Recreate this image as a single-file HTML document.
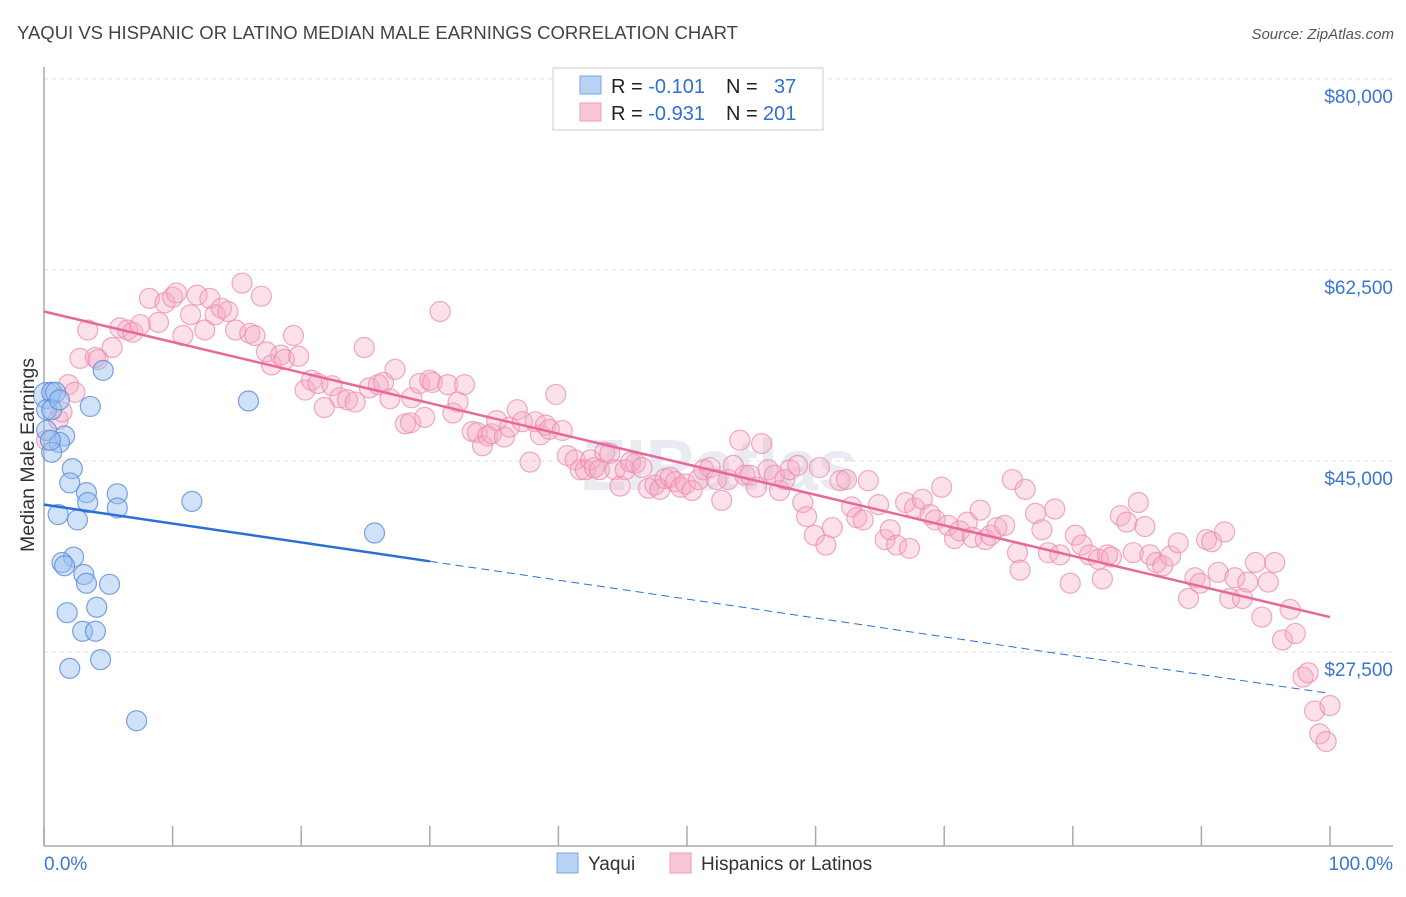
<!DOCTYPE html>
<html><head><meta charset="utf-8"><style>
body{margin:0;background:#fff;font-family:"Liberation Sans",sans-serif;}
svg text{font-family:"Liberation Sans",sans-serif;}
</style></head><body>
<svg id="chart" width="1406" height="892" xmlns="http://www.w3.org/2000/svg">
<text x="17" y="39" font-size="18.5" fill="#444">YAQUI VS HISPANIC OR LATINO MEDIAN MALE EARNINGS CORRELATION CHART</text>
<text x="1394" y="39" font-size="15" fill="#555" font-style="italic" text-anchor="end">Source: ZipAtlas.com</text>
<text x="720" y="490" font-size="72" fill="#e8ecf2" text-anchor="middle" font-weight="bold">ZIPatlas</text>
<g id="grid"></g>
<g id="axes"></g>
<g id="pts"></g>
<g id="lines"></g>
<text transform="translate(34,455) rotate(-90)" font-size="19.5" fill="#333" text-anchor="middle">Median Male Earnings</text>
<g>
<rect x="553" y="68" width="270" height="62" fill="#fff" stroke="#ccc"/>
<rect x="580" y="76" width="21" height="18" fill="#b8d2f4" stroke="#7aa7e6"/>
<rect x="580" y="103" width="21" height="18" fill="#f9c6d5" stroke="#ee9fb9"/>
<text x="611" y="93" font-size="20" fill="#222">R = <tspan fill="#3070d0">-0.101</tspan><tspan x="726">N = </tspan><tspan x="774" fill="#3070d0">37</tspan></text>
<text x="611" y="120" font-size="20" fill="#222">R = <tspan fill="#3070d0">-0.931</tspan><tspan x="726">N = </tspan><tspan x="763" fill="#3070d0">201</tspan></text>
</g>
<g>
<rect x="557" y="853" width="21" height="20" fill="#b8d2f4" stroke="#7aa7e6"/>
<text x="588" y="870" font-size="19" fill="#333">Yaqui</text>
<rect x="670" y="853" width="21" height="20" fill="#f9c6d5" stroke="#ee9fb9"/>
<text x="701" y="870" font-size="19" fill="#333">Hispanics or Latinos</text>
</g>
</svg>
<script>
const yTicks=[80000,62500,45000,27500];
const yTickLabels=["$80,000","$62,500","$45,000","$27,500"];
const xTicks=[0,10,20,30,40,50,60,70,80,90,100];
const yaquiX=[0.2,0.6,0.9,0.2,0.6,3.6,4.6,15.9,1.6,1.2,0.6,2.2,2.0,3.3,3.4,5.7,5.7,11.5,1.1,2.6,25.7,2.3,1.4,1.6,3.1,3.3,5.1,4.1,1.8,3.0,4.0,2.0,4.4,7.2,0.2,0.5,1.2];
const yaquiY=[51.0,51.3,51.3,49.7,49.7,50.0,53.3,50.5,47.3,46.7,45.8,44.3,43.0,42.1,41.2,42.0,40.7,41.3,40.1,39.6,38.4,36.2,35.7,35.4,34.6,33.8,33.7,31.6,31.1,29.4,29.4,26.0,26.8,21.2,47.8,46.9,50.6];
const hispX=[0.2,1.1,1.4,1.9,2.4,2.8,3.4,4.0,4.2,5.3,5.9,6.5,6.9,7.5,8.2,8.9,9.4,10.0,10.3,10.8,11.4,11.9,12.5,12.9,13.3,13.8,14.3,14.9,15.4,16.0,16.4,16.9,17.3,17.7,18.4,18.7,19.4,19.8,20.3,20.8,21.3,21.8,22.4,23.0,23.6,24.2,24.9,25.3,26.0,26.4,26.9,27.3,28.1,28.5,28.6,29.2,29.6,30.0,30.2,30.8,31.4,31.8,32.2,32.7,33.3,33.7,34.1,34.5,34.8,35.2,35.8,36.2,36.8,37.2,37.8,38.2,38.6,39.0,39.3,39.8,40.3,40.7,41.3,41.7,42.1,42.5,42.8,43.2,43.6,44.0,44.4,44.8,45.2,45.6,46.0,46.5,47.0,47.5,47.9,48.3,48.7,49.1,49.5,49.9,50.4,50.9,51.3,51.8,52.3,52.7,53.2,53.6,54.1,54.5,54.9,55.4,55.8,56.3,56.8,57.2,57.6,58.0,58.6,59.0,59.3,59.9,60.3,60.8,61.3,61.9,62.4,62.8,63.2,63.7,64.1,64.9,65.4,65.8,66.3,67.0,67.3,67.7,68.3,68.9,69.3,69.8,70.3,70.8,71.2,71.8,72.2,72.8,73.2,73.6,74.1,74.7,75.3,75.7,75.9,76.3,77.1,77.6,78.1,78.6,79.0,79.8,80.2,80.7,81.3,82.0,82.3,82.7,83.0,83.7,84.2,84.7,85.1,85.6,86.0,86.5,87.0,87.6,88.2,89.0,89.5,89.9,90.4,90.8,91.3,91.8,92.2,92.6,93.2,93.6,94.2,94.7,95.2,95.7,96.3,96.9,97.3,97.9,98.3,98.8,99.2,99.7,100.0];
const hispY=[46.9,48.8,49.5,52.0,51.3,54.4,57.0,54.5,54.3,55.4,57.2,57.0,56.8,57.5,59.9,57.7,59.5,60.0,60.4,56.5,58.4,60.2,57.0,59.9,58.4,59.0,58.7,57.0,61.3,56.7,56.5,60.1,55.0,53.8,54.7,54.3,56.5,54.6,51.5,52.4,52.1,49.9,51.9,50.8,50.6,50.4,55.4,51.7,52.0,52.2,50.7,53.4,48.4,48.5,50.8,52.1,49.0,52.4,52.2,58.7,52.0,49.4,50.4,52.0,47.7,47.6,46.4,47.3,47.5,48.7,47.2,48.1,49.7,48.6,44.9,48.6,47.4,48.3,47.9,51.1,47.8,45.5,45.1,44.2,44.2,45.1,44.4,44.2,45.8,45.7,44.2,42.7,44.2,44.9,44.8,44.4,42.5,42.8,42.4,43.4,43.5,43.1,42.6,42.9,42.3,43.3,44.2,44.4,43.3,41.4,43.3,44.6,46.9,43.7,43.7,42.6,46.6,44.2,43.7,42.3,43.3,44.2,44.6,41.2,39.9,38.2,44.4,37.3,38.9,43.2,43.3,40.8,39.8,39.6,43.2,41.0,37.8,38.7,37.3,41.2,37.0,40.7,41.5,40.1,39.6,42.6,39.1,37.9,38.6,39.4,38.0,40.5,37.8,38.2,38.9,39.1,43.3,36.6,35.0,42.4,40.2,38.7,36.6,40.6,36.4,33.8,38.2,37.3,36.4,36.0,34.2,36.4,36.2,40.0,39.4,36.6,41.2,39.0,36.4,35.7,35.4,36.3,37.5,32.4,34.3,33.8,37.8,37.6,34.8,38.5,32.4,34.3,32.4,33.9,35.7,30.7,33.9,35.7,28.6,31.4,29.2,25.2,25.6,22.1,20.0,19.3,22.6];
const yaquiTrend=[41.0,23.7];
const hispTrend=[58.7,30.7];
const yaquiSolidEnd=30;

const NS="http://www.w3.org/2000/svg";
const xs=p=>44+p*12.86;
const ys=v=>79+(80-v)*191/17.5;
function mk(tag,attrs,parent){const e=document.createElementNS(NS,tag);for(const k in attrs)e.setAttribute(k,attrs[k]);parent.appendChild(e);return e;}
const grid=document.getElementById('grid'),axes=document.getElementById('axes'),pts=document.getElementById('pts'),lines=document.getElementById('lines');
yTicks.forEach((t,i)=>{
 const y=ys(t/1000);
 const l=mk('line',{x1:44,x2:1393,y1:y,y2:y,stroke:'#ddd','stroke-dasharray':'4,4'},grid);
 
 
 const tx=mk('text',{x:1393,y:y+24,'font-size':19,fill:'#3a75d0','text-anchor':'end'},axes);
 tx.textContent=yTickLabels[i];
 
 
});
const ya=mk('line',{x1:44,x2:44,y1:67,y2:846,stroke:'#aaa','stroke-width':1.5},axes);


const xa=mk('line',{x1:44,x2:1393,y1:846,y2:846,stroke:'#aaa','stroke-width':1.5},axes);


xTicks.forEach(t=>{
 const tk=mk('line',{x1:xs(t),x2:xs(t),y1:826,y2:846,stroke:'#aaa','stroke-width':1.5},axes);
 
 
});
const x0=mk('text',{x:44,y:870,'font-size':19,fill:'#3a75d0'},axes);x0.textContent='0.0%';


const x1=mk('text',{x:1393,y:870,'font-size':19,fill:'#3a75d0','text-anchor':'end'},axes);x1.textContent='100.0%';


hispX.forEach((x,i)=>{
 const c=mk('circle',{cx:xs(x),cy:ys(hispY[i]),r:10,fill:'rgba(245,170,196,0.35)',stroke:'rgba(236,140,175,0.75)','stroke-width':1.2},pts);
 
 
});
yaquiX.forEach((x,i)=>{
 const c=mk('circle',{cx:xs(x),cy:ys(yaquiY[i]),r:i===0?13:10,fill:'rgba(150,190,240,0.45)',stroke:'rgba(90,140,220,0.8)','stroke-width':1.2},pts);
 
 
});
const tv=(tr,p)=>tr[0]+(tr[1]-tr[0])*p/100;
const hl=mk('line',{x1:xs(0),y1:ys(hispTrend[0]),x2:xs(100),y2:ys(hispTrend[1]),stroke:'#e8689a','stroke-width':2.5},lines);


const bl=mk('line',{x1:xs(0),y1:ys(yaquiTrend[0]),x2:xs(yaquiSolidEnd),y2:ys(tv(yaquiTrend,yaquiSolidEnd)),stroke:'#2a6fd6','stroke-width':2.5},lines);


const bd=mk('line',{x1:xs(yaquiSolidEnd),y1:ys(tv(yaquiTrend,yaquiSolidEnd)),x2:xs(100),y2:ys(yaquiTrend[1]),stroke:'#2a6fd6','stroke-width':1,'stroke-dasharray':'8,5'},lines);


</script>
</body></html>
